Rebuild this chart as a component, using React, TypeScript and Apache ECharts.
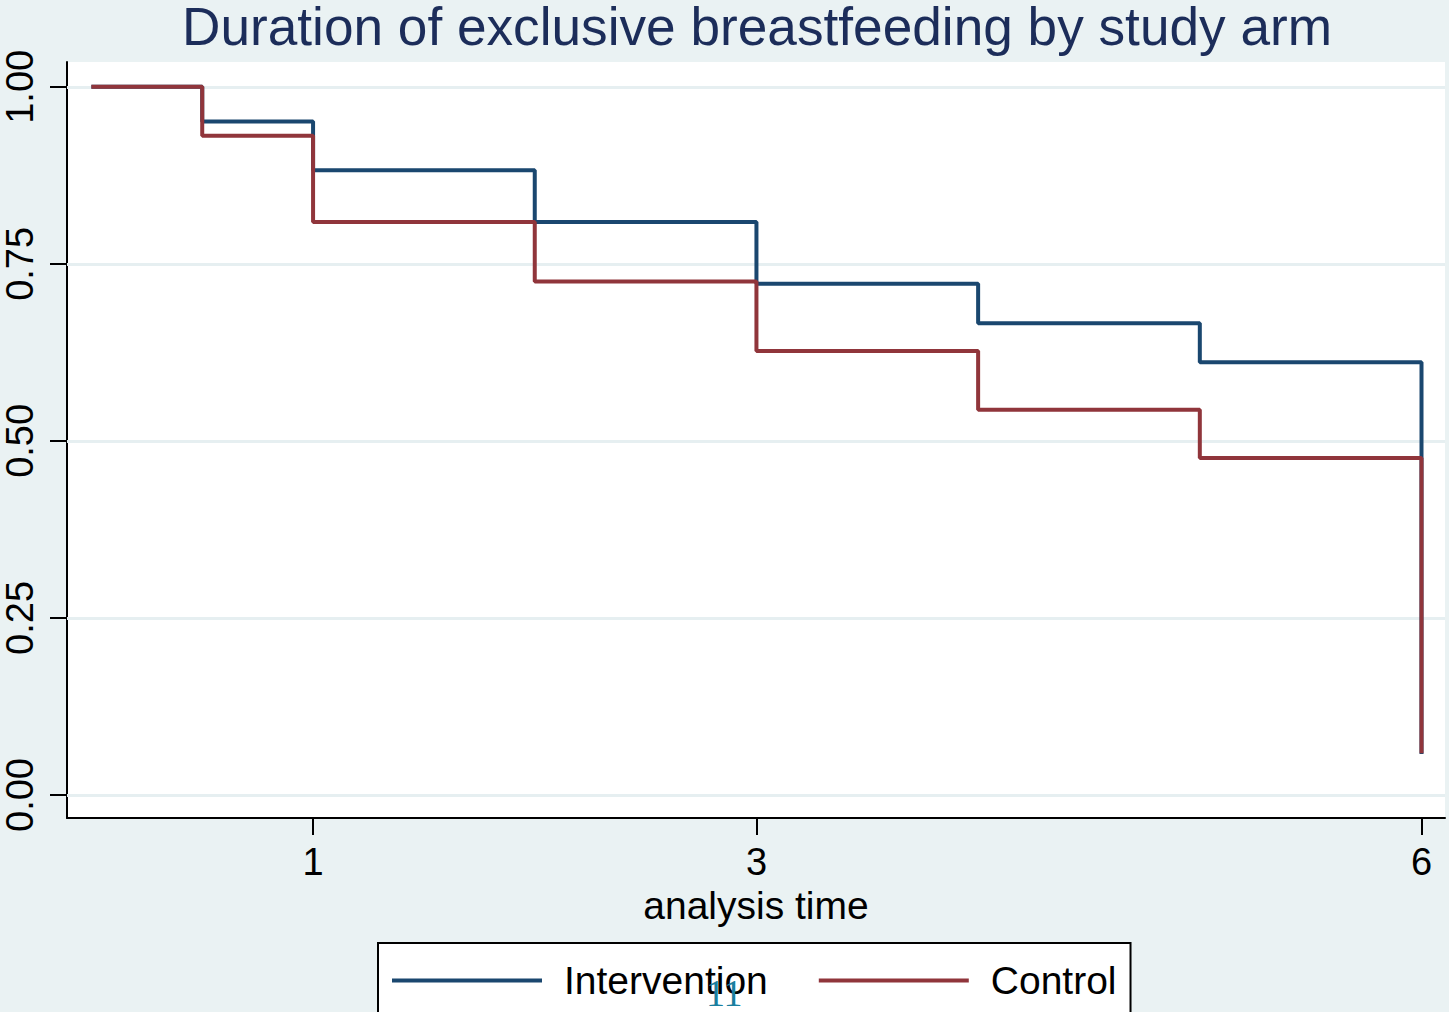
import React, { useEffect, useRef } from "react";
import * as echarts from "echarts";

const titleText = "Duration of exclusive breastfeeding by study arm";
const times = [0, 0.5, 1, 2, 3, 4, 5, 6];
const intervention = [1.0, 0.951, 0.882, 0.809, 0.722, 0.666, 0.611, 0.058];
const control = [1.0, 0.931, 0.809, 0.725, 0.627, 0.544, 0.476, 0.059];
const xTicks = [1, 3, 6];
const yTicks = [0, 0.25, 0.5, 0.75, 1];
const seriesNames = ["Intervention", "Control"];

const FONT = "Liberation Sans, Arial, sans-serif";

export default function App() {
  const ref = useRef<HTMLDivElement>(null);
  useEffect(() => {
    if (!ref.current) return;
    const chart = echarts.init(ref.current, undefined, { renderer: "svg" });
    const toPairs = (ys: number[]) => times.map((t, i) => [t, ys[i]]);
    chart.setOption({
      animation: false,
      backgroundColor: "#eaf2f3",
      textStyle: { fontFamily: FONT },
      title: {
        text: titleText,
        left: 182,
        top: 0,
        padding: 0,
        textStyle: { fontFamily: FONT, fontSize: 53.2, fontWeight: "normal", color: "#1c2d5a" },
      },
      grid: {
        left: 67,
        top: 62,
        right: 4,
        bottom: 194,
        show: true,
        backgroundColor: "#ffffff",
        borderWidth: 0,
      },
      legend: {
        data: seriesNames,
        left: 378,
        top: 943,
        width: 800,
        padding: [18, 14, 40, 14],
        itemGap: 51,
        itemWidth: 150,
        itemHeight: 4,
        icon: "rect",
        backgroundColor: "#ffffff",
        borderColor: "#000000",
        borderWidth: 2,
        borderRadius: 0,
        textStyle: { fontFamily: FONT, fontSize: 39, color: "#000", padding: [0, 0, 0, 17] },
      },
      xAxis: {
        type: "value",
        min: -0.11,
        max: 6.106,
        name: "analysis time",
        nameLocation: "middle",
        nameGap: 58,
        nameTextStyle: { fontFamily: FONT, fontSize: 39, color: "#000" },
        axisLine: { show: true, onZero: false, lineStyle: { color: "#000", width: 2 } },
        axisTick: { show: true, customValues: xTicks, length: 17, lineStyle: { color: "#000", width: 2 } },
        axisLabel: { customValues: xTicks, fontFamily: FONT, fontSize: 38, color: "#000", margin: 25 },
        splitLine: { show: false },
      },
      yAxis: {
        type: "value",
        min: -0.0325,
        max: 1.035,
        axisLine: { show: true, onZero: false, lineStyle: { color: "#000", width: 2 } },
        axisTick: { show: true, customValues: yTicks, length: 17, lineStyle: { color: "#000", width: 2 } },
        axisLabel: {
          customValues: yTicks,
          rotate: 90,
          fontFamily: FONT,
          fontSize: 38,
          color: "#000",
          margin: 28,
          formatter: (v: number) => v.toFixed(2),
        },
        splitLine: { show: false },
      },
      series: [
        {
          name: "grid",
          type: "line",
          data: [],
          silent: true,
          z: 1,
          markLine: {
            silent: true,
            z: 1,
            symbol: "none",
            label: { show: false },
            lineStyle: { color: "#e6eff1", width: 3, type: "solid" },
            data: yTicks.map((v) => ({ yAxis: v })),
          },
        },
        {
          name: seriesNames[0],
          type: "line",
          step: "end",
          data: toPairs(intervention),
          symbol: "none",
          z: 10,
          lineStyle: { color: "#1a476f", width: 4 },
          itemStyle: { color: "#1a476f" },
        },
        {
          name: seriesNames[1],
          type: "line",
          step: "end",
          data: toPairs(control),
          symbol: "none",
          z: 11,
          lineStyle: { color: "#90353b", width: 4 },
          itemStyle: { color: "#90353b" },
        },
      ],
      graphic: [
        {
          type: "text",
          left: 706,
          top: 974,
          z: 100,
          style: { text: "11", fontFamily: "Liberation Serif, Times New Roman, serif", fontSize: 38, fill: "#1a7f9f" },
        },
      ],
    });
    return () => chart.dispose();
  }, []);
  return (
    <div
      ref={ref}
      style={{ position: "fixed", left: 0, top: 0, width: 1449, height: 1012 }}
    />
  );
}
